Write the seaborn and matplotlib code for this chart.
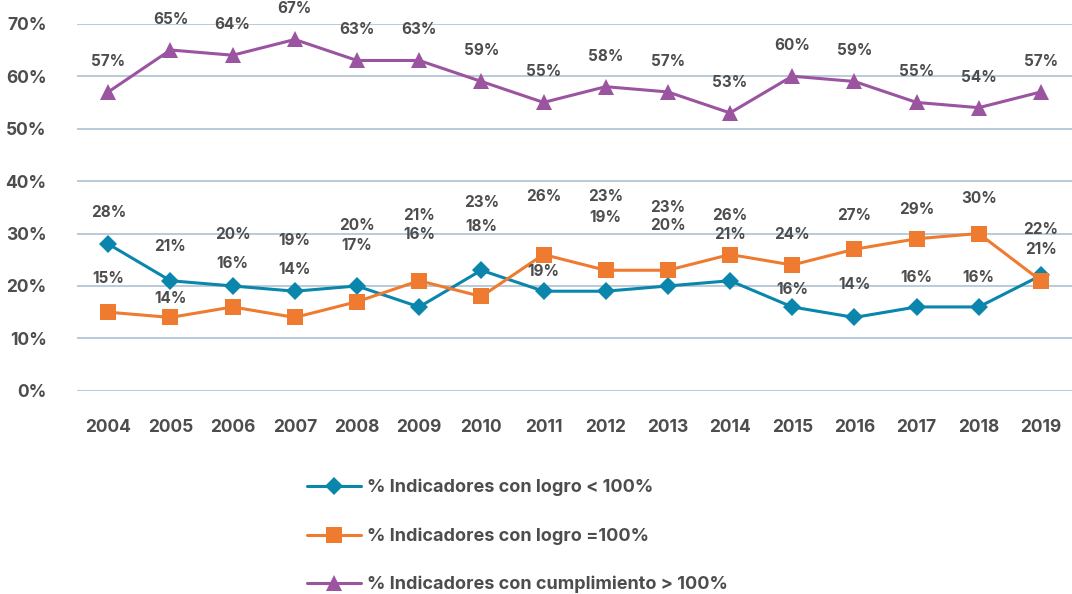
import numpy as np
import pandas as pd
import matplotlib
matplotlib.use("Agg")
import matplotlib.pyplot as plt
import seaborn as sns

# Series values (%), one per year
years = [str(y) for y in range(2004, 2020)]
logro_menor = [28, 21, 20, 19, 20, 16, 23, 19, 19, 20, 21, 16, 14, 16, 16, 22]
logro_igual = [15, 14, 16, 14, 17, 21, 18, 26, 23, 23, 26, 24, 27, 29, 30, 21]
cumplimiento_mayor = [57, 65, 64, 67, 63, 63, 59, 55, 58, 57, 53, 60, 59, 55, 54, 57]

series_names = [
    "% Indicadores con logro < 100%",
    "% Indicadores con logro =100%",
    "% Indicadores con cumplimiento > 100%",
]
y_ticks = [0, 10, 20, 30, 40, 50, 60, 70]

# Vertical placement of the value labels for the two lower series (in % units)
label_y_menor = [34.1, 27.5, 29.8, 28.6, 31.5, 29.8, 36.0, 22.7, 33.0, 31.5, 29.8, 19.3, 20.2, 21.7, 21.7, 30.7]
label_y_igual = [21.4, 17.7, 24.2, 23.1, 27.8, 33.4, 31.3, 37.0, 37.0, 34.9, 33.4, 29.9, 33.4, 34.5, 36.6, 26.9]

colors = ["#0a86ad", "#ee7b30", "#9b54a0"]
markers = ["D", "s", "^"]
msizes = [9, 11, 11]

sns.set_theme(style="white")
plt.rcParams["font.family"] = ["Inter", "DejaVu Sans"]
text_color = "#4d4d4d"
weight = "bold"

df = pd.DataFrame({
    "year": years * 3,
    "value": logro_menor + logro_igual + cumplimiento_mayor,
    "serie": sum([[n] * len(years) for n in series_names], []),
})

fig = plt.figure(figsize=(10.72, 5.94), dpi=100)
ax = fig.add_axes([0.072, 0.342, 0.928, 0.618])

for name, c, m, ms in zip(series_names, colors, markers, msizes):
    sub = df[df["serie"] == name]
    sns.lineplot(data=sub, x="year", y="value", ax=ax, color=c, marker=m,
                 markersize=ms, markeredgewidth=0, linewidth=2.2, label=name,
                 sort=False)

ax.set_xlim(-0.5, len(years) - 0.5)
ax.set_ylim(0, 70)
ax.set_yticks(y_ticks)
ax.set_yticklabels([f"{t}%" for t in y_ticks])
ax.set_xlabel("")
ax.set_ylabel("")
ax.yaxis.grid(True, color="#b3c6d6", linewidth=1.3)
ax.xaxis.grid(False)
ax.set_axisbelow(True)
for s in ax.spines.values():
    s.set_visible(False)
ax.tick_params(axis="both", length=0, labelsize=12.5, labelcolor=text_color)
ax.tick_params(axis="y", pad=22)
ax.tick_params(axis="x", pad=20)
for lbl in ax.get_xticklabels() + ax.get_yticklabels():
    lbl.set_fontweight(weight)

lab_kw = dict(ha="center", va="center", fontsize=11, fontweight=weight,
              color=text_color, clip_on=False)
for i in range(len(years)):
    ax.text(i, label_y_menor[i], f"{logro_menor[i]}%", **lab_kw)
    ax.text(i, label_y_igual[i], f"{logro_igual[i]}%", **lab_kw)
    ax.annotate(f"{cumplimiento_mayor[i]}%", (i, cumplimiento_mayor[i]),
                xytext=(0, 22), textcoords="offset points", **lab_kw)

handles, labels = ax.get_legend_handles_labels()
ax.get_legend().remove()
leg = fig.legend(handles, labels, loc="upper left",
                 bbox_to_anchor=(0.286, 0.194), frameon=False,
                 fontsize=13, handlelength=3.0, handletextpad=0.35,
                 labelspacing=1.72, borderpad=0, borderaxespad=0)
for t in leg.get_texts():
    t.set_color(text_color)
    t.set_fontweight(weight)

fig.savefig("out.png", dpi=100)
